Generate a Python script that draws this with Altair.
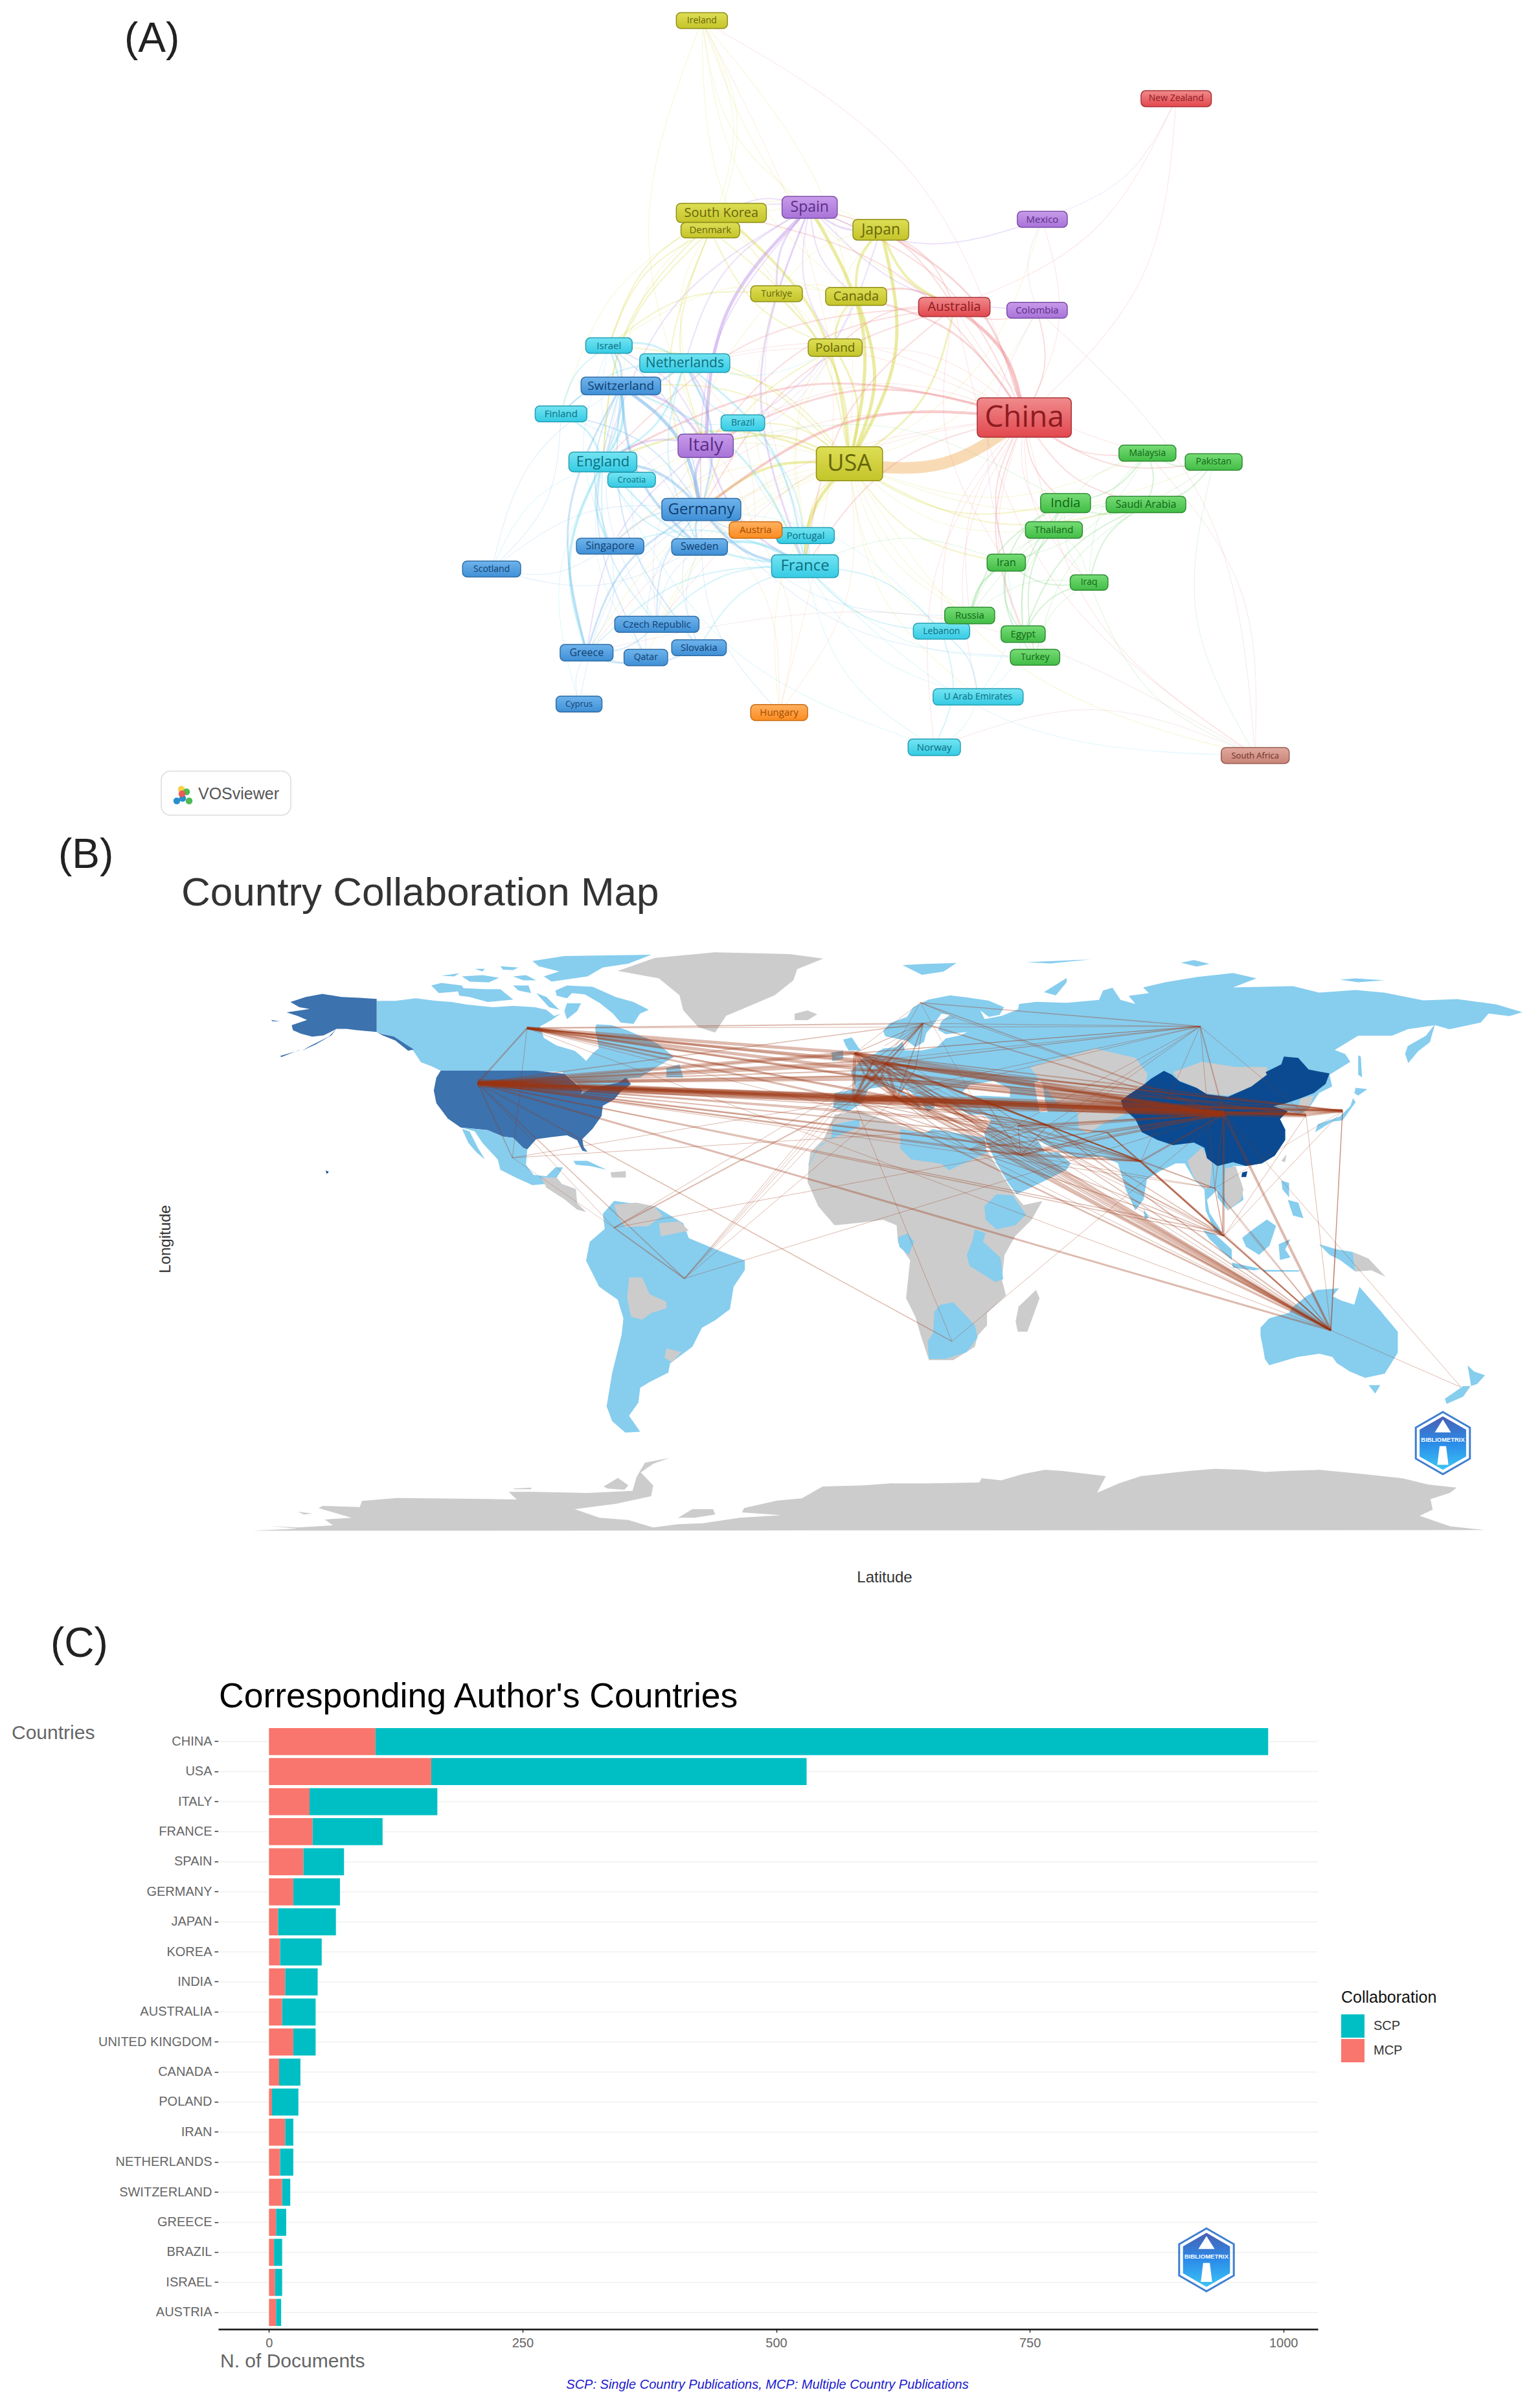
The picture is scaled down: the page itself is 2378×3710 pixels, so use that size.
import altair as alt

FONT = "Liberation Sans"
NX = 11
PAGE_X = alt.Scale(domain=[0, 2378], range=[-NX, 2378 - NX], nice=False, zero=False)
PANEL_W = 2362
A_TOP, B_TOP, C_TOP = 8, 1300, 2500
A_H, B_H, C_H = 1292, 1200, 1202

def page_y(top, h):
    return alt.Scale(domain=[top, top + h], range=[0, h], nice=False, zero=False)

def note(text, x, y, top, size, color="#222222", font=FONT, angle=0, align="left", style="normal", weight="normal", baseline="alphabetic"):
    return alt.Chart(alt.Data(values=[{"t": text}])).mark_text(
        font=font, fontSize=size, color=color, angle=angle, align=align, baseline=baseline, fontStyle=style, fontWeight=weight
    ).encode(text="t:N", x=alt.value(x - NX), y=alt.value(y - top))

# ---------------- (A) network ----------------
CLUSTER_FILL = {
    "red": ("#f08a8c", "#e2484e", "#a83236", "#8c1b20"),
    "yellow": ("#dede55", "#c4c42a", "#8f8f1a", "#66660a"),
    "purple": ("#c79bea", "#a873d8", "#7d4fa8", "#5a2d86"),
    "blue": ("#6fb4ec", "#3f8fd6", "#2f6da6", "#123f70"),
    "cyan": ("#74e4f2", "#35cbe4", "#24a0b5", "#0c6f80"),
    "green": ("#76dc76", "#42bd46", "#2f8c33", "#0f6614"),
    "orange": ("#ffb060", "#fb8c20", "#c96c14", "#a34a00"),
    "salmon": ("#e0a89e", "#c98478", "#96594f", "#6b3028"),
}
NODE_NAMES = ["Ireland", "New Zealand", "South Korea", "Denmark", "Spain", "Japan", "Mexico", "Turkiye", "Canada", "Australia",
              "Colombia", "Israel", "Netherlands", "Poland", "Switzerland", "Finland", "Brazil", "China", "Italy", "USA",
              "England", "Croatia", "Malaysia", "Pakistan", "Germany", "India", "Saudi Arabia", "Portugal", "Austria", "Thailand",
              "Singapore", "Sweden", "France", "Scotland", "Iran", "Iraq", "Russia", "Lebanon", "Egypt", "Czech Republic",
              "Greece", "Qatar", "Slovakia", "Turkey", "Cyprus", "Hungary", "U Arab Emirates", "Norway", "South Africa"]
NODE_X1 = [443, 1243, 443, 451, 625, 747, 1030, 571, 700, 860, 1012, 287, 380, 670, 279, 200, 520, 961, 446, 684, 258, 325, 1205, 1319, 418, 1070, 1183, 616, 534, 1044, 271, 435, 607, 75, 978, 1121, 905, 851, 1002, 337, 243, 353, 435, 1018, 236, 571, 885, 842, 1381]
NODE_X2 = [531, 1364, 598, 552, 720, 843, 1116, 660, 805, 983, 1116, 367, 535, 763, 416, 289, 595, 1123, 541, 798, 375, 407, 1303, 1417, 554, 1156, 1320, 715, 625, 1142, 387, 531, 722, 175, 1044, 1186, 991, 948, 1078, 482, 334, 428, 529, 1103, 315, 669, 1040, 932, 1498]
NODE_Y1 = [28, 175, 387, 423, 374, 417, 402, 542, 545, 564, 573, 640, 670, 642, 714, 768, 785, 753, 821, 845, 855, 893, 842, 858, 942, 933, 938, 997, 986, 986, 1017, 1018, 1048, 1060, 1047, 1086, 1147, 1177, 1182, 1164, 1217, 1226, 1208, 1226, 1314, 1330, 1300, 1395, 1411]
NODE_Y2 = [58, 205, 423, 452, 415, 456, 432, 572, 579, 600, 603, 669, 705, 675, 747, 798, 815, 827, 865, 909, 892, 921, 872, 889, 984, 969, 969, 1027, 1017, 1017, 1047, 1049, 1091, 1090, 1079, 1115, 1178, 1207, 1213, 1194, 1248, 1257, 1238, 1256, 1344, 1360, 1331, 1426, 1441]
NODE_CLUSTER = ["yellow", "red", "yellow", "yellow", "purple", "yellow", "purple", "yellow", "yellow", "red",
                "purple", "cyan", "cyan", "yellow", "blue", "cyan", "cyan", "red", "purple", "yellow",
                "cyan", "cyan", "green", "green", "blue", "green", "green", "cyan", "orange", "green",
                "blue", "blue", "cyan", "blue", "green", "green", "green", "cyan", "green", "blue",
                "blue", "blue", "blue", "green", "blue", "orange", "cyan", "cyan", "salmon"]
NODE_FONT = [14, 14, 20, 15, 23, 23, 15, 14, 20, 20, 15, 15, 21, 19, 19, 15, 14, 46, 28, 36, 22, 13, 14, 14, 24, 20, 16, 15, 15, 15, 16, 16, 24, 14, 16, 14, 15, 14, 15, 15, 16, 14, 15, 14, 13, 15, 14, 15, 13]

A_SX, A_SY, A_OX = 0.897, 0.8205, 650
node_rows, centers = [], {}
for n, x1, x2, y1, y2, c, fs in zip(NODE_NAMES, NODE_X1, NODE_X2, NODE_Y1, NODE_Y2, NODE_CLUSTER, NODE_FONT):
    row = dict(n=n, x1=A_OX + x1 * A_SX, x2=A_OX + x2 * A_SX, y1=y1 * A_SY, y2=y2 * A_SY, c=c, fs=fs, tc=CLUSTER_FILL[c][3])
    row["cx"], row["cy"] = (row["x1"] + row["x2"]) / 2, (row["y1"] + row["y2"]) / 2
    node_rows.append(row)
    centers[n] = row

EDGES_A = [
    ("USA", "China", 18), ("USA", "Italy", 3), ("USA", "Germany", 4), ("USA", "England", 3), ("USA", "France", 5), ("USA", "Spain", 5),
    ("USA", "Japan", 5), ("USA", "Canada", 5), ("USA", "Australia", 3), ("USA", "South Korea", 4), ("USA", "Netherlands", 2), ("USA", "Switzerland", 2),
    ("USA", "India", 2), ("USA", "Iran", 2), ("USA", "Saudi Arabia", 2), ("USA", "Poland", 3), ("USA", "Israel", 2), ("USA", "Brazil", 2),
    ("USA", "Turkiye", 3), ("USA", "Portugal", 2), ("USA", "Austria", 1), ("USA", "Greece", 1), ("USA", "Sweden", 1), ("USA", "Singapore", 1),
    ("USA", "Denmark", 2), ("USA", "Thailand", 1), ("USA", "Malaysia", 1), ("USA", "Egypt", 1), ("USA", "Mexico", 1), ("USA", "Colombia", 1),
    ("USA", "Ireland", 1), ("USA", "Russia", 1), ("USA", "Pakistan", 1), ("USA", "Lebanon", 1), ("USA", "U Arab Emirates", 1), ("USA", "Czech Republic", 1),
    ("USA", "Qatar", 1), ("USA", "Croatia", 1), ("USA", "Hungary", 1), ("USA", "South Africa", 1),
    ("China", "Australia", 5), ("China", "Japan", 3), ("China", "Italy", 3), ("China", "Germany", 4), ("China", "England", 3), ("China", "France", 2),
    ("China", "Spain", 2), ("China", "South Korea", 2), ("China", "Canada", 3), ("China", "India", 2), ("China", "Saudi Arabia", 2), ("China", "Pakistan", 2),
    ("China", "Malaysia", 2), ("China", "Thailand", 1), ("China", "Iran", 2), ("China", "Iraq", 1), ("China", "Egypt", 2), ("China", "Russia", 1),
    ("China", "Turkey", 1), ("China", "Singapore", 1), ("China", "Netherlands", 1), ("China", "Switzerland", 1), ("China", "Colombia", 2), ("China", "Mexico", 1),
    ("China", "New Zealand", 1), ("China", "Brazil", 1), ("China", "Poland", 1), ("China", "Greece", 1), ("China", "Czech Republic", 1), ("China", "Ireland", 1),
    ("China", "South Africa", 1), ("China", "U Arab Emirates", 1), ("China", "Lebanon", 1), ("China", "Norway", 1),
    ("Australia", "New Zealand", 1), ("Australia", "Canada", 3), ("Australia", "Colombia", 2), ("Australia", "Poland", 2), ("Australia", "Malaysia", 1), ("Australia", "South Africa", 1),
    ("Australia", "Iran", 1), ("Australia", "Japan", 2), ("Australia", "Spain", 2), ("Australia", "Italy", 2), ("Australia", "Germany", 2), ("Australia", "England", 2), ("Australia", "France", 2),
    ("Spain", "Italy", 5), ("Spain", "Germany", 2), ("Spain", "England", 2), ("Spain", "France", 3), ("Spain", "Mexico", 2), ("Spain", "Colombia", 2),
    ("Spain", "Japan", 3), ("Spain", "Turkiye", 3), ("Spain", "Netherlands", 2), ("Spain", "Poland", 2), ("Spain", "Canada", 2), ("Spain", "Portugal", 1), ("Spain", "South Korea", 2), ("Spain", "Denmark", 2),
    ("Italy", "Germany", 4), ("Italy", "England", 3), ("Italy", "France", 3), ("Italy", "Switzerland", 4), ("Italy", "Netherlands", 3), ("Italy", "Japan", 2),
    ("Italy", "Austria", 1), ("Italy", "Greece", 2), ("Italy", "Israel", 2), ("Italy", "Brazil", 2), ("Italy", "Poland", 1), ("Italy", "Croatia", 1), ("Italy", "Czech Republic", 1), ("Italy", "Canada", 1),
    ("Germany", "England", 4), ("Germany", "France", 4), ("Germany", "Switzerland", 5), ("Germany", "Netherlands", 3), ("Germany", "Sweden", 3), ("Germany", "Austria", 2),
    ("Germany", "Greece", 3), ("Germany", "Slovakia", 1), ("Germany", "Czech Republic", 2), ("Germany", "Singapore", 2), ("Germany", "Scotland", 1), ("Germany", "Qatar", 1),
    ("Germany", "Israel", 2), ("Germany", "Finland", 2), ("Germany", "Cyprus", 1), ("Germany", "Hungary", 1), ("Germany", "Turkey", 1), ("Germany", "Russia", 1),
    ("England", "France", 3), ("England", "Netherlands", 3), ("England", "Switzerland", 4), ("England", "Israel", 3), ("England", "Finland", 3), ("England", "Greece", 4),
    ("England", "Scotland", 1), ("England", "Sweden", 2), ("England", "Singapore", 3), ("England", "Czech Republic", 2), ("England", "Qatar", 1), ("England", "Cyprus", 1), ("England", "Norway", 1), ("England", "Croatia", 1),
    ("France", "Switzerland", 3), ("France", "Netherlands", 3), ("France", "Lebanon", 2), ("France", "U Arab Emirates", 1), ("France", "Norway", 1), ("France", "Greece", 2),
    ("France", "Czech Republic", 2), ("France", "Portugal", 2), ("France", "Brazil", 2), ("France", "Singapore", 2), ("France", "Slovakia", 2), ("France", "Turkey", 1), ("France", "South Africa", 1), ("France", "Sweden", 4),
    ("Japan", "Canada", 4), ("Japan", "Denmark", 1), ("Japan", "South Korea", 1), ("Japan", "Australia", 4), ("Japan", "Poland", 1), ("Japan", "Turkiye", 1),
    ("South Korea", "Canada", 1), ("South Korea", "Netherlands", 1), ("South Korea", "Israel", 2), ("South Korea", "Switzerland", 1), ("South Korea", "Ireland", 1), ("South Korea", "Finland", 1), ("South Korea", "England", 2),
    ("Denmark", "Israel", 2), ("Denmark", "Poland", 2), ("Denmark", "Ireland", 1), ("Denmark", "England", 2), ("Denmark", "Germany", 2), ("Denmark", "Italy", 2),
    ("Ireland", "Canada", 1), ("Ireland", "Poland", 1), ("Ireland", "Australia", 1), ("Ireland", "Italy", 1), ("Ireland", "Spain", 1),
    ("India", "Saudi Arabia", 2), ("India", "Iran", 2), ("India", "Iraq", 1), ("India", "Malaysia", 2), ("India", "Thailand", 1), ("India", "Egypt", 2), ("India", "Russia", 2), ("India", "Turkey", 2), ("India", "Pakistan", 1), ("India", "Italy", 1),
    ("Saudi Arabia", "Egypt", 2), ("Saudi Arabia", "Iraq", 2), ("Saudi Arabia", "Malaysia", 2), ("Saudi Arabia", "Pakistan", 2), ("Saudi Arabia", "Iran", 1), ("Saudi Arabia", "Thailand", 1), ("Saudi Arabia", "Turkey", 1), ("Saudi Arabia", "Russia", 1),
    ("Iran", "Iraq", 2), ("Iran", "Egypt", 2), ("Iran", "Turkey", 2), ("Iran", "Russia", 3), ("Iran", "Thailand", 2), ("Iran", "Malaysia", 1), ("Iran", "France", 1),
    ("Iraq", "Egypt", 2), ("Iraq", "Turkey", 1), ("Iraq", "Russia", 1), ("Iraq", "Thailand", 1), ("Iraq", "South Africa", 1),
    ("Thailand", "Russia", 1), ("Thailand", "Egypt", 1), ("Malaysia", "Pakistan", 2), ("Malaysia", "Thailand", 1), ("Pakistan", "South Africa", 1), ("Malaysia", "Iraq", 1),
    ("Mexico", "Colombia", 1), ("Mexico", "New Zealand", 1), ("Colombia", "Iran", 1),
    ("Hungary", "Austria", 1), ("Hungary", "Germany", 1), ("Hungary", "Ireland", 1), ("Hungary", "USA", 1), ("Austria", "Switzerland", 1), ("Austria", "Netherlands", 1),
    ("Norway", "Lebanon", 2), ("Norway", "U Arab Emirates", 1), ("U Arab Emirates", "Lebanon", 2), ("U Arab Emirates", "Iran", 1), ("U Arab Emirates", "Egypt", 1), ("Lebanon", "France", 2), ("Lebanon", "Germany", 1),
    ("South Africa", "Colombia", 1), ("South Africa", "Greece", 1), ("South Africa", "Malaysia", 1), ("South Africa", "Norway", 1),
    ("Switzerland", "Netherlands", 3), ("Switzerland", "Israel", 3), ("Switzerland", "Finland", 2), ("Switzerland", "Sweden", 4), ("Switzerland", "Greece", 3), ("Switzerland", "Singapore", 2), ("Switzerland", "Slovakia", 2), ("Switzerland", "Qatar", 2), ("Switzerland", "Czech Republic", 1), ("Switzerland", "Scotland", 1), ("Switzerland", "Brazil", 1),
    ("Netherlands", "Israel", 3), ("Netherlands", "Poland", 1), ("Netherlands", "Sweden", 2), ("Netherlands", "Brazil", 2), ("Netherlands", "Finland", 2), ("Greece", "Czech Republic", 2), ("Greece", "Qatar", 2), ("Greece", "Cyprus", 1), ("Greece", "Slovakia", 2), ("Greece", "Singapore", 1), ("Scotland", "Sweden", 1), ("Scotland", "Finland", 1), ("Scotland", "Singapore", 1),
    ("Canada", "Poland", 3), ("Canada", "Turkiye", 1), ("Canada", "Israel", 1), ("Canada", "Portugal", 1), ("Poland", "Portugal", 1), ("Poland", "Germany", 2), ("Turkiye", "Germany", 1), ("Turkiye", "France", 1), ("Turkiye", "Israel", 2),
    ("Sweden", "Czech Republic", 1), ("Sweden", "Slovakia", 1), ("Sweden", "Finland", 1), ("Israel", "Finland", 2), ("Israel", "Croatia", 1), ("Israel", "Singapore", 1), ("Brazil", "Portugal", 1), ("Croatia", "Slovakia", 1),
]
CLUSTER_LINE = {"red": "#ee8488", "yellow": "#d6d63a", "purple": "#bd92e8", "blue": "#66aee8", "cyan": "#66d8ee", "green": "#6fd06f", "orange": "#f7b070", "salmon": "#d09a90"}
OPACITY_BY_W = {1: 0.2, 2: 0.27, 3: 0.33, 4: 0.4, 5: 0.48}
edge_rows = []
for i, (a, b, w) in enumerate(EDGES_A):
    p, q = centers[a], centers[b]
    mx, my = (p["cx"] + q["cx"]) / 2, (p["cy"] + q["cy"]) / 2
    dx, dy = q["cx"] - p["cx"], q["cy"] - p["cy"]
    bend = 0.13
    pts = [(p["cx"], p["cy"]), (mx - dy * bend, my + dx * bend), (q["cx"], q["cy"])]
    col = "#f5cf9c" if w > 10 else CLUSTER_LINE[centers[a]["c"]]
    for j, (x, y) in enumerate(pts):
        edge_rows.append(dict(e=i, o=j, x=x, y=y, w=w if w > 1 else 1.1, col=col, op=OPACITY_BY_W.get(w, 0.75)))

AY = page_y(A_TOP + 3.5, A_H)
a_edges = alt.Chart(alt.Data(values=edge_rows)).mark_line(interpolate="natural", strokeCap="round").encode(
    x=alt.X("x:Q", scale=PAGE_X, axis=None), y=alt.Y("y:Q", scale=AY, axis=None), detail="e:N", order="o:Q",
    stroke=alt.Stroke("col:N", scale=None), strokeWidth=alt.StrokeWidth("w:Q", scale=None), opacity=alt.Opacity("op:Q", scale=None))
a_layers = [a_edges]
for cl, (c_top, c_bot, c_line, _) in CLUSTER_FILL.items():
    a_layers.append(alt.Chart(alt.Data(values=[r for r in node_rows if r["c"] == cl])).mark_rect(
        cornerRadius=7, stroke=c_line, strokeWidth=1.5,
        fill=alt.Gradient(gradient="linear", x1=0, y1=0, x2=0, y2=1, stops=[alt.GradientStop(offset=0, color=c_top), alt.GradientStop(offset=1, color=c_bot)])
    ).encode(x=alt.X("x1:Q", scale=PAGE_X, axis=None), x2="x2:Q", y=alt.Y("y1:Q", scale=AY, axis=None), y2="y2:Q"))
a_layers.append(alt.Chart(alt.Data(values=node_rows)).mark_text(font="Open Sans", baseline="middle").encode(
    x=alt.X("cx:Q", scale=PAGE_X, axis=None), y=alt.Y("cy:Q", scale=AY, axis=None), text="n:N",
    size=alt.Size("fs:Q", scale=None), color=alt.Color("tc:N", scale=None)))
VOS_BOX = [dict(x1=252, x2=452, y1=1194, y2=1262)]
VOS_DOTS = [dict(x=283, y=1222, c="#f4d03f"), dict(x=291, y=1226, c="#43b649"), dict(x=285, y=1236, c="#1e88c9"), dict(x=276, y=1240, c="#1e88c9"), dict(x=295, y=1240, c="#43b649"), dict(x=284, y=1229, c="#ef5350")]
a_layers.append(alt.Chart(alt.Data(values=VOS_BOX)).mark_rect(cornerRadius=14, fill="white", stroke="#dcdcdc", strokeWidth=1.5).encode(
    x=alt.X("x1:Q", scale=PAGE_X, axis=None), x2="x2:Q", y=alt.Y("y1:Q", scale=AY, axis=None), y2="y2:Q"))
a_layers.append(alt.Chart(alt.Data(values=VOS_DOTS)).mark_circle(size=110, opacity=0.95).encode(
    x=alt.X("x:Q", scale=PAGE_X, axis=None), y=alt.Y("y:Q", scale=AY, axis=None), color=alt.Color("c:N", scale=None)))
a_layers.append(note("VOSviewer", 309, 1234, A_TOP, 25, color="#555555"))
a_layers.append(note("(A)", 195, 80, A_TOP, 64))
panel_a = alt.layer(*a_layers).properties(width=PANEL_W, height=A_H)

# ---------------- (B) map ----------------
def Z2(p): return [[200 + x * 1.396, 1300 + y * 0.769] for x, y in p]
def Z5(p): return [[1250 + x * 0.4167, 1450 + y * 0.4167] for x, y in p]
def Z6(p): return [[1750 + x * 0.4026, 1450 + y * 0.4026] for x, y in p]
def Z7(p): return [[380 + x * 0.577, 1450 + y * 0.577] for x, y in p]
def Z8(p): return [[1300 + x * 0.673, 1914 + y * 0.323] for x, y in p]
def Z9(p): return [[1230 + x / 3, 1480 + y / 3] for x, y in p]
def Z10(p): return [[400 + x * 0.3954, 1470 + y * 0.3954] for x, y in p]
def Z12(p): return [[380 + x * 0.638, 2180 + y / 3] for x, y in p]

LIGHT, GREY, MID, DARK, WHITE = "#87cdee", "#cccccc", "#3c72ad", "#0b4a90", "#ffffff"
SHAPES = [
    (GREY, Z12([(20, 550), (130, 540), (60, 528), (130, 535), (215, 525), (195, 498), (260, 490), (180, 445), (190, 435), (280, 440), (285, 412), (370, 398), (560, 402), (660, 405), (640, 370), (700, 370), (830, 375), (940, 365), (950, 300), (970, 235), (1030, 212), (990, 240), (960, 280), (990, 340), (985, 390), (900, 425), (860, 435), (800, 450), (860, 490), (930, 500), (990, 535), (1050, 520), (1110, 515), (1200, 490), (1300, 478), (1205, 465), (1210, 445), (1290, 410), (1350, 400), (1400, 345), (1500, 340), (1568, 330)])
     + Z8([(119, 1165), (200, 1165), (320, 1160), (325, 1140), (370, 1150), (420, 1120), (470, 1100), (510, 1105), (610, 1130), (590, 1210), (640, 1165), (690, 1130), (800, 1105), (860, 1095), (930, 1100), (975, 1110), (1020, 1105), (1100, 1100), (1200, 1120), (1290, 1140), (1350, 1170), (1415, 1185), (1400, 1210), (1355, 1240), (1360, 1290), (1330, 1320), (1400, 1370), (1480, 1388)])),
    (GREY, Z12([(1050, 490), (1085, 450), (1135, 450), (1140, 475), (1090, 490)])),
    (GREY, Z12([(870, 345), (905, 305), (930, 340), (920, 360), (880, 355)])),
    (GREY, Z12([(650, 355), (695, 350), (695, 358), (655, 358)])),
    (GREY, Z12([(130, 462), (165, 470), (145, 475)])),
    (GREY, Z7([(1000, 85), (1100, 50), (1260, 35), (1460, 40), (1550, 52), (1480, 80), (1470, 110), (1420, 150), (1350, 180), (1290, 205), (1260, 250), (1215, 235), (1175, 190), (1165, 150), (1110, 105)])),
    (GREY, Z9([(0, 255), (60, 240), (105, 258), (60, 285), (0, 285)])),
    (LIGHT, Z10([(467, 190), (540, 190), (620, 180), (700, 190), (760, 195), (820, 205), (920, 215), (1000, 210), (1085, 215), (1130, 225), (1160, 250), (1185, 240), (1150, 265), (1105, 290), (1120, 335), (1170, 365), (1240, 385), (1265, 405), (1285, 425), (1310, 395), (1335, 375), (1320, 300), (1325, 282), (1385, 285), (1445, 305), (1490, 325), (1520, 335), (1568, 360)])
     + Z7([(1150, 315), (1100, 345), (1060, 370), (1030, 372), (1010, 395), (960, 405), (900, 415), (890, 385), (850, 355)])
     + Z10([(717, 463), (680, 445), (640, 430), (610, 385), (530, 330), (467, 312)])),
    (LIGHT, Z7([(1130, 345), (1165, 335), (1175, 370), (1130, 370)])),
    (LIGHT, Z10([(680, 130), (720, 120), (800, 130), (810, 150), (770, 155), (710, 160)])),
    (LIGHT, Z10([(780, 140), (900, 145), (950, 145), (1000, 185), (900, 195), (830, 175), (790, 170)])),
    (LIGHT, Z10([(800, 95), (880, 90), (945, 100), (905, 118), (830, 115)])),
    (LIGHT, Z10([(720, 92), (790, 82), (770, 95)])),
    (LIGHT, Z10([(850, 65), (890, 65), (880, 75)])),
    (LIGHT, Z10([(950, 55), (1020, 60), (1000, 70), (960, 68)])),
    (LIGHT, Z10([(1000, 95), (1050, 90), (1090, 110), (1040, 110)])),
    (LIGHT, Z10([(1075, 35), (1200, 15), (1540, 10), (1450, 45), (1350, 60), (1290, 95), (1150, 115), (1120, 95), (1180, 75), (1100, 55)])),
    (LIGHT, Z10([(1000, 130), (1060, 130), (1070, 160), (1020, 150)])),
    (LIGHT, Z10([(1165, 150), (1210, 130), (1310, 135), (1400, 175), (1470, 195), (1530, 225), (1495, 240), (1470, 280), (1420, 275), (1390, 240), (1340, 200), (1280, 165), (1230, 160), (1210, 180), (1170, 170)])),
    (LIGHT, Z10([(1090, 160), (1130, 175), (1180, 225), (1140, 215)])),
    (LIGHT, Z10([(1210, 200), (1265, 200), (1250, 230), (1210, 262), (1200, 230)])),
    (MID, Z10([(467, 183), (400, 178), (330, 175), (255, 163), (190, 175), (130, 195), (165, 215), (205, 222), (115, 235), (160, 250), (195, 265), (135, 285), (140, 305), (170, 318), (215, 330), (260, 325), (310, 300), (350, 300), (390, 305), (467, 312), (490, 320), (535, 330), (580, 360), (612, 380), (590, 385), (540, 345), (490, 325), (467, 312)])),
    (MID, Z10([(310, 300), (290, 325), (230, 360), (175, 385), (210, 365), (280, 330)])),
    (MID, Z10([(90, 405), (160, 385), (170, 380), (95, 410)])),
    (MID, Z10([(55, 265), (90, 270), (60, 270)])),
    (MID, Z10([(717, 463), (1090, 463), (1150, 470), (1200, 475), (1240, 510), (1270, 540), (1265, 555), (1310, 530), (1410, 510), (1440, 490), (1460, 515), (1420, 545), (1395, 575), (1350, 600), (1345, 640), (1310, 690), (1270, 730), (1275, 760), (1290, 780), (1270, 775), (1250, 735), (1210, 715), (1150, 722), (1090, 730), (1055, 770), (1040, 765), (1000, 725), (960, 720), (900, 695), (795, 685), (745, 650), (700, 590), (690, 540), (700, 490)])),
    (DARK, Z10([(268, 852), (280, 858), (272, 866)])),
    (LIGHT, Z10([(795, 685), (900, 695), (960, 720), (1000, 725), (1040, 765), (1055, 770), (1050, 830), (1080, 870), (1130, 875), (1165, 840), (1195, 840), (1170, 880), (1130, 905), (1075, 910), (1010, 880), (950, 850), (940, 810), (880, 745), (850, 700)])),
    (LIGHT, Z10([(800, 690), (830, 700), (860, 760), (890, 810), (855, 780), (825, 745)])),
    (GREY, Z10([(1110, 880), (1170, 880), (1190, 905), (1245, 925), (1250, 980), (1285, 1015), (1250, 1005), (1200, 965), (1130, 920)])),
    (LIGHT, Z10([(1235, 815), (1290, 815), (1365, 850), (1300, 835), (1245, 830)])),
    (GREY, Z10([(1380, 860), (1440, 855), (1440, 880), (1385, 880)])),
    (LIGHT, Z7([(960, 735), (990, 700), (1060, 710), (1100, 715), (1175, 760), (1190, 800), (1250, 825), (1340, 860), (1340, 885), (1310, 930), (1300, 990), (1260, 1020), (1225, 1040), (1200, 1090), (1140, 1135), (1135, 1160), (1085, 1185), (1060, 1200), (1055, 1240), (1030, 1275), (1060, 1318), (1020, 1320), (985, 1290), (970, 1250), (985, 1160), (1010, 1060), (1015, 1015), (1000, 965), (950, 930), (915, 860), (925, 810), (965, 775)])),
    (GREY, Z7([(990, 710), (1050, 705), (1098, 715), (1120, 740), (1080, 768), (1020, 770), (1000, 740)])),
    (GREY, Z7([(1110, 760), (1165, 755), (1190, 780), (1115, 795)])),
    (GREY, Z7([(1030, 905), (1065, 905), (1085, 950), (1130, 970), (1130, 988), (1090, 1000), (1065, 1018), (1035, 1010), (1025, 960)])),
    (GREY, Z7([(1130, 1095), (1170, 1105), (1145, 1132), (1125, 1120)])),
    # Africa
    (GREY, Z5([(10, 790), (60, 740), (100, 650), (190, 635), (340, 690), (470, 725), (640, 745), (650, 760), (770, 950), (800, 985), (870, 970), (830, 1040), (770, 1100), (730, 1170), (720, 1260), (735, 1320), (665, 1385), (665, 1430), (630, 1470), (620, 1510), (540, 1560), (450, 1560), (420, 1470), (400, 1400), (365, 1330), (380, 1190), (335, 1125), (330, 1060), (280, 1040), (200, 1050), (100, 1060), (40, 990), (0, 900), (5, 825)])),
    (LIGHT, Z9([(60, 960), (105, 880), (170, 830), (175, 770), (300, 745), (300, 780), (180, 830), (120, 860), (70, 950)])),
    (LIGHT, Z9([(490, 790), (600, 810), (640, 790), (880, 830), (890, 900), (715, 980), (680, 950), (540, 930), (490, 880)])),
    (LIGHT, Z5([(655, 990), (700, 945), (760, 950), (785, 985), (810, 1020), (770, 1060), (700, 1075), (660, 1040)])),
    (LIGHT, Z5([(335, 1105), (370, 1090), (395, 1120), (375, 1170), (340, 1140)])),
    (LIGHT, Z5([(620, 1075), (660, 1090), (650, 1120), (715, 1180), (725, 1260), (695, 1270), (600, 1210), (590, 1170), (610, 1120)])),
    (LIGHT, Z5([(470, 1380), (490, 1355), (540, 1345), (620, 1430), (630, 1475), (590, 1530), (510, 1555), (450, 1555), (445, 1490), (465, 1460)])),
    (GREY, Z8([(450, 240), (458, 280), (430, 440), (408, 440), (403, 390), (410, 320)])),
    # Eurasia
    (LIGHT, Z5([(100, 570), (180, 555), (160, 490), (205, 440), (250, 425), (280, 405)])
     + Z9([(470, 410), (500, 385), (510, 425), (590, 425), (660, 410), (700, 370), (770, 355), (800, 340), (700, 350), (665, 330), (680, 290), (720, 260), (680, 255), (640, 310), (610, 345), (600, 385), (560, 410), (520, 380), (470, 370), (420, 360), (410, 335), (440, 300), (520, 270), (550, 225), (620, 190), (720, 170), (800, 180), (900, 195), (970, 225), (950, 260), (900, 270), (860, 240), (880, 280), (960, 265), (1035, 235), (1040, 210), (1120, 200), (1260, 205)])
     + Z5([(1080, 225), (1095, 190), (1130, 180), (1160, 225), (1215, 240), (1190, 210), (1265, 200)])
     + Z6([(45, 185), (130, 165), (250, 145), (390, 130), (480, 150), (390, 185), (620, 180), (720, 205), (860, 195), (970, 205), (1120, 235), (1250, 230), (1400, 250), (1500, 280), (1450, 295), (1370, 285), (1340, 320), (1220, 345), (1165, 330), (1060, 345), (1000, 370), (870, 370), (780, 425), (820, 440), (840, 470), (760, 520), (770, 565), (720, 590), (680, 650), (650, 670), (600, 660), (570, 690), (590, 730), (590, 770), (550, 830), (500, 860), (440, 870), (390, 870), (420, 930), (430, 1000), (370, 1040), (330, 990), (330, 960), (290, 1000), (300, 1050), (340, 1110), (350, 1140), (320, 1120), (285, 1040), (280, 960), (240, 920), (205, 860), (170, 860), (110, 890), (60, 920)])
     + Z5([(1245, 965), (1215, 1005), (1180, 930), (1150, 830), (1090, 805), (1000, 810), (930, 780), (880, 760), (850, 740), (880, 790), (930, 790), (975, 830), (960, 855), (860, 905), (775, 945), (745, 905), (700, 830), (660, 745), (655, 720), (680, 670), (650, 650), (600, 650), (520, 610), (470, 600), (470, 625), (445, 640), (410, 590), (360, 550), (350, 565), (420, 620), (410, 625), (340, 570), (290, 545), (225, 555), (205, 605), (150, 640), (95, 625)])),
    (WHITE, Z5([(575, 565), (600, 540), (690, 525), (750, 555), (750, 585), (650, 580), (590, 580)])),
    (WHITE, Z5([(840, 530), (870, 520), (880, 600), (890, 640), (860, 640), (850, 590)])),
    (GREY, Z5([(825, 475), (900, 450), (1000, 425), (1065, 405), (1130, 420), (1215, 440), (1260, 500), (1250, 540), (1175, 610), (1175, 650), (1100, 680), (1040, 720), (1005, 700), (1000, 640), (930, 610), (880, 550)])),
    (GREY, Z6([(160, 510), (270, 470), (400, 490), (520, 490), (520, 520), (460, 570), (370, 600), (280, 590), (240, 565), (180, 540)])),
    (GREY, Z6([(215, 850), (270, 800), (310, 860), (300, 950), (285, 960), (240, 915)])),
    (GREY, Z6([(360, 880), (400, 870), (430, 960), (420, 1000), (370, 1040), (355, 970)])),
    (GREY, Z6([(650, 610), (700, 600), (680, 650), (640, 640)])),
    (GREY, Z6([(575, 850), (595, 825), (590, 855)])),
    (DARK, Z6([(45, 560), (75, 535), (125, 505), (155, 520), (185, 545), (250, 570), (290, 595), (370, 605), (460, 565), (520, 520), (515, 510), (575, 480), (585, 450), (640, 455), (680, 500), (760, 515), (745, 555), (700, 590), (650, 610), (590, 630), (545, 640), (600, 660), (570, 690), (590, 730), (590, 770), (550, 830), (500, 860), (440, 870), (390, 855), (330, 870), (290, 840), (280, 800), (240, 780), (160, 790), (100, 770), (40, 740), (15, 690), (-30, 650), (-40, 620), (-15, 600)])),
    (DARK, Z6([(425, 895), (445, 890), (440, 912), (422, 912)])),
    # islands
    (LIGHT, Z9([(225, 375), (265, 365), (295, 410), (305, 425), (250, 425), (235, 400)])),
    (LIGHT, Z9([(170, 435), (225, 425), (225, 465), (175, 475)])),
    (LIGHT, Z9([(500, 30), (600, 25), (750, 20), (690, 60), (590, 75), (540, 50)])),
    (LIGHT, Z9([(1155, 155), (1260, 90), (1260, 110), (1210, 170)])),
    (LIGHT, Z5([(810, 85), (1050, 75), (900, 90)])),
    (LIGHT, Z5([(1245, 1000), (1265, 1030), (1250, 1038)])),
    (LIGHT, Z6([(190, 90), (240, 80), (300, 95), (250, 105)])),
    (LIGHT, Z6([(800, 155), (860, 150), (970, 158), (870, 165)])),
    (LIGHT, Z6([(1060, 410), (1130, 370), (1165, 325), (1145, 395), (1100, 430), (1062, 475), (1050, 440)])),
    (LIGHT, Z6([(810, 695), (860, 625), (850, 610), (840, 640), (800, 680), (715, 710), (705, 740), (770, 700)])),
    (LIGHT, Z6([(860, 570), (905, 575), (870, 600), (855, 590)])),
    (LIGHT, Z6([(870, 445), (880, 450), (885, 530), (870, 520)])),
    (LIGHT, Z6([(425, 1145), (470, 1110), (520, 1075), (555, 1100), (530, 1175), (490, 1210), (440, 1180)])),
    (LIGHT, Z6([(275, 1115), (320, 1130), (385, 1190), (385, 1230), (350, 1200), (300, 1150)])),
    (LIGHT, Z6([(385, 1240), (500, 1265), (470, 1270), (390, 1260)])),
    (LIGHT, Z6([(500, 1268), (650, 1270), (640, 1275), (510, 1275)])),
    (LIGHT, Z6([(565, 1170), (610, 1150), (590, 1190), (610, 1220), (570, 1230)])),
    (LIGHT, Z6([(575, 925), (605, 935), (605, 990), (580, 960)])),
    (LIGHT, Z6([(600, 1000), (640, 1010), (660, 1070), (620, 1060)])),
    (LIGHT, Z6([(720, 1170), (790, 1190), (850, 1200), (860, 1275), (800, 1230), (760, 1210)])),
    (GREY, Z6([(850, 1200), (910, 1225), (975, 1295), (920, 1270), (860, 1275)])),
    (LIGHT, Z8([(965, 420), (985, 375), (1030, 350), (1040, 320), (1070, 270), (1095, 240), (1145, 232), (1130, 270), (1150, 290), (1180, 310), (1192, 225), (1215, 280), (1240, 340), (1280, 440), (1280, 540), (1250, 640), (1205, 660), (1170, 630), (1140, 590), (1130, 560), (1100, 545), (1050, 560), (985, 600), (975, 570), (970, 510), (965, 460)])),
    (LIGHT, Z8([(1213, 695), (1240, 695), (1228, 735)])),
    (LIGHT, Z8([(1440, 600), (1455, 630), (1480, 648), (1462, 690), (1448, 700), (1445, 660)])),
    (LIGHT, Z8([(1430, 700), (1447, 700), (1430, 750), (1392, 785), (1388, 760)])),
]
features = [{"type": "Feature", "properties": {"c": c}, "geometry": {"type": "Polygon", "coordinates": [pts + [pts[0]]]}} for c, pts in SHAPES]

MAP_NODES = {}
for name, pt in {"USA": (625, 385), "Canada": (757, 238), "Mexico": (718, 585), "Colombia": (990, 772), "Brazil": (1178, 908)}.items():
    MAP_NODES[name] = Z7([pt])[0]
for name, pt in {"UK": (175, 422), "Spain": (170, 597), "Portugal": (105, 590), "France": (215, 510), "Netherlands": (245, 450), "Germany": (290, 460),
                 "Switzerland": (270, 520), "Austria": (340, 505), "Italy": (330, 590), "Poland": (400, 480), "Czech": (350, 460), "Hungary": (395, 510),
                 "Greece": (420, 630), "Denmark": (285, 395), "Sweden": (428, 312), "Norway": (418, 235), "Finland": (545, 290), "Turkey": (660, 600),
                 "Israel": (660, 715), "Lebanon": (670, 690), "Egypt": (600, 780), "Iraq": (780, 690), "Iran": (890, 690), "Saudi": (790, 800), "Qatar": (866, 782),
                 "UAE": (905, 794), "Pakistan": (1110, 716), "India": (1235, 823), "Russia": (1455, 323), "SouthAfrica": (535, 1490), "Ireland": (125, 435)}.items():
    MAP_NODES[name] = Z5([pt])[0]
for name, pt in {"China": (355, 670), "Korea": (670, 675), "Japan": (810, 658), "Thailand": (320, 955), "Malaysia": (355, 1138), "Indonesia": (435, 1105),
                 "Singapore": (350, 1125), "PNG": (785, 1170), "Vietnam": (690, 1345), "Australia": (765, 1500)}.items():
    MAP_NODES[name] = Z6([pt])[0]
MAP_NODES["NZ"] = Z8([(1425, 705)])[0]

EDGES_B = {
    "USA": [("China", 13), ("Spain", 8), ("Portugal", 5), ("France", 5), ("Germany", 5), ("Italy", 7), ("UK", 6), ("Netherlands", 3), ("Switzerland", 3), ("Japan", 5), ("Korea", 4), ("Australia", 3), ("Canada", 2.5), ("Mexico", 1.5), ("Brazil", 1.5), ("Colombia", 1), ("India", 3), ("Iran", 2), ("Saudi", 2), ("Turkey", 1.5), ("Israel", 2), ("Poland", 2), ("Greece", 1.5), ("Sweden", 1.5), ("Austria", 1.5), ("Singapore", 1.5), ("Malaysia", 1.5), ("Thailand", 1), ("SouthAfrica", 1.5), ("Russia", 1), ("Egypt", 1.5), ("Pakistan", 1.5), ("Qatar", 1)],
    "Canada": [("UK", 5), ("France", 4), ("Germany", 3), ("Italy", 3), ("China", 5), ("Japan", 2), ("Spain", 3), ("Sweden", 2), ("Netherlands", 2), ("Switzerland", 2), ("Poland", 1), ("Mexico", 1), ("Iran", 1.5), ("Saudi", 1), ("Russia", 1), ("Australia", 1)],
    "China": [("Italy", 8), ("Spain", 10), ("Portugal", 3), ("UK", 6), ("Germany", 6), ("France", 6), ("Netherlands", 3), ("Switzerland", 2), ("Poland", 3), ("Sweden", 2), ("Russia", 2), ("Australia", 4), ("Japan", 6), ("Korea", 7), ("India", 3), ("Iran", 2), ("Saudi", 3), ("Pakistan", 3), ("Egypt", 2), ("Turkey", 2), ("Iraq", 1.5), ("Thailand", 1.5), ("Malaysia", 2), ("Singapore", 2), ("Brazil", 1), ("Colombia", 1), ("Mexico", 1), ("Greece", 1.5), ("Norway", 1.5), ("Finland", 1), ("NZ", 1), ("SouthAfrica", 1), ("Israel", 1.5)],
    "Australia": [("UK", 3), ("Spain", 2.5), ("France", 2.5), ("Germany", 3), ("Italy", 3), ("Netherlands", 2), ("Switzerland", 1.5), ("Turkey", 1.5), ("Iran", 2), ("Saudi", 2), ("India", 2), ("Malaysia", 2), ("Thailand", 1.5), ("Japan", 1.5), ("Korea", 1), ("PNG", 1), ("NZ", 1), ("Singapore", 1), ("Indonesia", 1), ("Poland", 1), ("Vietnam", 1.5), ("Israel", 1.5), ("Egypt", 1), ("Pakistan", 1.5), ("Greece", 1)],
    "UK": [("Spain", 5), ("France", 3), ("Germany", 5), ("Netherlands", 2), ("Italy", 4), ("Switzerland", 2), ("Sweden", 1.5), ("India", 1.5), ("Saudi", 1.5), ("Russia", 1), ("Japan", 2), ("Korea", 1.5), ("Malaysia", 1), ("Iran", 1.5), ("Poland", 3)],
    "Germany": [("Spain", 5), ("France", 3), ("Italy", 5), ("Sweden", 2), ("Switzerland", 3), ("Netherlands", 2), ("Israel", 1.5), ("Russia", 1.5), ("India", 2), ("Japan", 2.5), ("Korea", 2), ("Saudi", 1.5), ("Iran", 1.5), ("Greece", 1.5), ("Poland", 1.5), ("Turkey", 1.5), ("Singapore", 1)],
    "Italy": [("France", 3), ("Spain", 7), ("Portugal", 6), ("Netherlands", 2), ("Switzerland", 2), ("Sweden", 2), ("Greece", 1.5), ("Israel", 4), ("Iran", 2), ("India", 2), ("Russia", 1), ("Japan", 2.5), ("Korea", 1.5), ("Saudi", 2), ("Brazil", 1), ("Turkey", 2), ("Poland", 1.5), ("Egypt", 1.5)],
    "France": [("Spain", 5), ("Netherlands", 2), ("Switzerland", 2), ("Sweden", 1.5), ("Lebanon", 2), ("India", 1.5), ("Japan", 2), ("Korea", 1.5), ("Saudi", 1.5), ("Brazil", 1), ("Colombia", 1), ("UAE", 1.5), ("Qatar", 1)],
    "Spain": [("Netherlands", 3), ("Switzerland", 2), ("Sweden", 2), ("Portugal", 5), ("Colombia", 2), ("Mexico", 1), ("Brazil", 1), ("Japan", 2.5), ("Korea", 1.5), ("India", 1.5), ("Iran", 1.5), ("Saudi", 1.5), ("Russia", 1), ("SouthAfrica", 1), ("Egypt", 1)],
    "Russia": [("Norway", 1.5), ("Sweden", 1), ("Netherlands", 1), ("India", 1), ("Saudi", 1), ("Thailand", 1), ("Iran", 1), ("Korea", 1), ("Egypt", 1)],
    "Iran": [("Iraq", 1.5), ("Turkey", 2), ("Saudi", 1.5), ("India", 2), ("Pakistan", 1.5), ("Egypt", 1.5), ("Malaysia", 1.5), ("Thailand", 1)],
    "Saudi": [("Egypt", 2), ("Pakistan", 2), ("Iraq", 1.5), ("India", 2.5), ("Turkey", 1.5), ("Malaysia", 1.5), ("Thailand", 1)],
    "India": [("Pakistan", 1.5), ("Thailand", 1.5), ("Malaysia", 2.5), ("Turkey", 1.5), ("Egypt", 1.5), ("Iraq", 1.5), ("Singapore", 1)],
    "Malaysia": [("Pakistan", 2), ("Egypt", 1.5), ("Iraq", 1.5), ("Thailand", 1), ("Korea", 1), ("Japan", 1)],
    "Japan": [("Korea", 4), ("Thailand", 0.8), ("Australia", 1)],
    "Colombia": [("Brazil", 2), ("Mexico", 0.8)],
    "Brazil": [("Portugal", 1), ("Netherlands", 0.8)],
    "Norway": [("Finland", 1), ("Germany", 1), ("UK", 1), ("Lebanon", 0.8)],
    "Sweden": [("Netherlands", 1.5), ("Denmark", 1), ("Poland", 1.5), ("Finland", 1), ("Switzerland", 1)],
    "Thailand": [("Indonesia", 0.8), ("Singapore", 1)],
}
map_edges = []
for a, lst in EDGES_B.items():
    for b, w in lst:
        map_edges.append(dict(x=MAP_NODES[a][0], y=MAP_NODES[a][1], x2=MAP_NODES[b][0], y2=MAP_NODES[b][1], w=w))

BY = page_y(B_TOP, B_H)
land = alt.Chart(alt.Data(values=features)).mark_geoshape(strokeWidth=0).encode(
    fill=alt.Fill("properties.c:N", scale=None)).project(type="identity", scale=1, translate=[-NX, -B_TOP])
lines = alt.Chart(alt.Data(values=map_edges)).mark_rule(color="#9a3412", opacity=0.34).encode(
    x=alt.X("x:Q", scale=PAGE_X, axis=None), y=alt.Y("y:Q", scale=BY, axis=None), x2="x2:Q", y2="y2:Q",
    strokeWidth=alt.StrokeWidth("w:Q", scale=None))

HEX = "M0,-1L0.87,-0.5L0.87,0.5L0,1L-0.87,0.5L-0.87,-0.5Z"
TRI = "M0,-1L1,0.6L-1,0.6Z"
def logo(cx, cy, top, h):
    g = alt.Gradient(gradient="linear", x1=0, y1=0, x2=0, y2=1, stops=[alt.GradientStop(offset=0, color="#4a5fb4"), alt.GradientStop(offset=0.5, color="#2b8be8"), alt.GradientStop(offset=1, color="#3cc4f6")])
    d = alt.Data(values=[{"a": 1}])
    return [
        alt.Chart(d).mark_point(shape=HEX, size=h * h, filled=False, stroke="#3f7fd0", strokeWidth=3, opacity=1).encode(x=alt.value(cx - NX), y=alt.value(cy - top)),
        alt.Chart(d).mark_point(shape=HEX, size=(h * 0.86) ** 2, filled=True, fill=g, opacity=1).encode(x=alt.value(cx - NX), y=alt.value(cy - top)),
        alt.Chart(d).mark_point(shape=TRI, size=(h * 0.26) ** 2, filled=True, fill="#ffffff", opacity=1).encode(x=alt.value(cx - NX), y=alt.value(cy - top - h * 0.25)),
        note("BIBLIOMETRIX", cx, cy - 2, top, h * 0.098, color="#ffffff", align="center", weight="bold"),
        alt.Chart(d).mark_point(shape="M-0.35,-1L0.35,-1L0.6,1L-0.6,1Z", size=(h * 0.3) ** 2, filled=True, fill="#ffffff", opacity=1).encode(x=alt.value(cx - NX), y=alt.value(cy - top + h * 0.2)),
    ]

panel_b = alt.layer(
    land, lines, *logo(2231, 2228, B_TOP, 96),
    note("(B)", 93, 1340, B_TOP, 64),
    note("Country Collaboration Map", 283, 1398, B_TOP, 62, color="#333333"),
    note("Longitude", 266, 1913, B_TOP, 24, color="#333333", angle=270, align="center"),
    note("Latitude", 1369, 2443, B_TOP, 24, color="#333333", align="center"),
).properties(width=PANEL_W, height=B_H)

# ---------------- (C) bars ----------------
COUNTRIES = ["CHINA", "USA", "ITALY", "FRANCE", "SPAIN", "GERMANY", "JAPAN", "KOREA", "INDIA", "AUSTRALIA", "UNITED KINGDOM", "CANADA", "POLAND", "IRAN", "NETHERLANDS", "SWITZERLAND", "GREECE", "BRAZIL", "ISRAEL", "AUSTRIA"]
MCP = [105, 160, 40, 43, 34, 24, 9, 11, 16, 13, 24, 10, 3, 16, 11, 13, 7, 5, 6, 7]
SCP = [880, 370, 126, 69, 40, 46, 57, 41, 32, 33, 22, 21, 26, 8, 13, 8, 10, 8, 7, 5]
X_TICKS = [0, 250, 500, 750, 1000]
bar_rows = []
for c, m, s in zip(COUNTRIES, MCP, SCP):
    bar_rows.append(dict(country=c, kind="MCP", v=m, ord=0))
    bar_rows.append(dict(country=c, kind="SCP", v=s, ord=1))
grid_rows = [dict(country=c, a=-50, b=1034) for c in COUNTRIES]

CX = alt.Scale(domain=[-50, 1034], range=[329, 2027], nice=False, zero=False)
CY = alt.Scale(domain=COUNTRIES, range=[161, 1098], paddingInner=0.1, paddingOuter=0.15)
grid = alt.Chart(alt.Data(values=grid_rows)).mark_rule(color="#f0f0f0", strokeWidth=1.5).encode(
    y=alt.Y("country:N", scale=CY, sort=COUNTRIES,
            axis=alt.Axis(title=None, offset=-329, domain=False, ticks=True, tickSize=6, tickColor="#333333", tickWidth=1.5, grid=False,
                          labelFont=FONT, labelFontSize=20, labelColor="#666666", labelPadding=4, labelLimit=400)),
    x=alt.X("a:Q", scale=CX, axis=alt.Axis(title=None, offset=-106, values=X_TICKS, format="d", domain=True, domainColor="#111111", domainWidth=2.5, ticks=True, tickSize=5, tickColor="#333333", tickWidth=1.5, grid=False,
                                           labelFont=FONT, labelFontSize=20, labelColor="#666666", labelPadding=6)),
    x2="b:Q")
bars = alt.Chart(alt.Data(values=bar_rows)).mark_bar().encode(
    y=alt.Y("country:N", scale=CY, sort=COUNTRIES),
    x=alt.X("v:Q", stack="zero", scale=CX),
    order=alt.Order("ord:Q"),
    color=alt.Color("kind:N", scale=alt.Scale(domain=["SCP", "MCP"], range=["#00BFC4", "#F8766D"]),
                    legend=alt.Legend(title="Collaboration", orient="none", legendX=2063, legendY=572, symbolType="square", symbolSize=1296, symbolStrokeWidth=0, symbolOpacity=1,
                                      titleFont=FONT, titleFontSize=25, titleFontWeight="normal", titleColor="#111111", titlePadding=13, labelFont=FONT, labelFontSize=20, labelColor="#333333", rowPadding=2, labelOffset=14)))

panel_c = alt.layer(
    grid, bars, *logo(1866, 3489, C_TOP, 97),
    note("(C)", 81, 2558, C_TOP, 64),
    note("Corresponding Author's Countries", 341, 2636, C_TOP, 53.5, color="#000000"),
    note("Countries", 21, 2685, C_TOP, 30, color="#666666"),
    note("N. of Documents", 343, 3655, C_TOP, 30, color="#666666"),
    note("SCP: Single Country Publications, MCP: Multiple Country Publications", 1188, 3688, C_TOP, 20, color="#1a1acc", style="italic", align="center"),
).properties(width=PANEL_W, height=C_H)

chart = alt.vconcat(panel_a, panel_b, panel_c, spacing=0, bounds="flush").properties(padding=0).configure_view(stroke=None).resolve_scale(x="independent", y="independent", color="independent")
chart.save("out.html", embed_options={"renderer": "svg", "actions": False})
